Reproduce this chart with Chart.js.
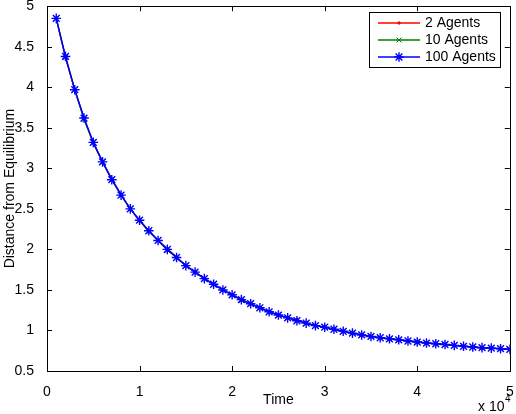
<!DOCTYPE html>
<html>
<head>
<meta charset="utf-8">
<script src="https://cdn.jsdelivr.net/npm/chart.js@4.4.1/dist/chart.umd.min.js"></script>
<style>
  html, body { margin: 0; padding: 0; background: #fff; }
  canvas { display: block; }
</style>
</head>
<body>
<canvas id="chart" width="516" height="414"></canvas>
<script>
var times = [1000, 2000, 3000, 4000, 5000, 6000, 7000, 8000, 9000, 10000,
  11000, 12000, 13000, 14000, 15000, 16000, 17000, 18000, 19000, 20000,
  21000, 22000, 23000, 24000, 25000, 26000, 27000, 28000, 29000, 30000,
  31000, 32000, 33000, 34000, 35000, 36000, 37000, 38000, 39000, 40000,
  41000, 42000, 43000, 44000, 45000, 46000, 47000, 48000, 49000, 50000];

var agents2 = [4.85, 4.36, 3.97, 3.62, 3.31, 3.08, 2.87, 2.68, 2.50, 2.35,
  2.23, 2.11, 2.01, 1.90, 1.80, 1.72, 1.64, 1.57, 1.50, 1.44,
  1.38, 1.33, 1.28, 1.23, 1.19, 1.155, 1.135, 1.09, 1.06, 1.04,
  1.015, 0.99, 0.967, 0.945, 0.926, 0.91, 0.897, 0.885, 0.87, 0.857,
  0.845, 0.836, 0.827, 0.816, 0.805, 0.796, 0.78, 0.782, 0.775, 0.765];

var agents10 = [4.85, 4.37, 3.97, 3.60, 3.32, 3.08, 2.86, 2.67, 2.50, 2.36,
  2.22, 2.11, 1.99, 1.90, 1.80, 1.72, 1.64, 1.57, 1.50, 1.44,
  1.37, 1.33, 1.28, 1.23, 1.19, 1.155, 1.12, 1.09, 1.06, 1.04,
  1.015, 0.99, 0.967, 0.945, 0.926, 0.91, 0.897, 0.885, 0.87, 0.865,
  0.845, 0.84, 0.827, 0.816, 0.805, 0.796, 0.788, 0.782, 0.775, 0.767];

var agents100 = [4.85, 4.38, 3.97, 3.62, 3.32, 3.08, 2.86, 2.67, 2.50, 2.36,
  2.23, 2.11, 2.00, 1.90, 1.80, 1.72, 1.64, 1.57, 1.50, 1.44,
  1.38, 1.33, 1.28, 1.23, 1.19, 1.155, 1.12, 1.09, 1.06, 1.04,
  1.015, 0.99, 0.967, 0.945, 0.926, 0.91, 0.897, 0.885, 0.87, 0.857,
  0.845, 0.836, 0.827, 0.816, 0.805, 0.796, 0.788, 0.782, 0.775, 0.767];

var seriesNames = ['2 Agents', '10 Agents', '100 Agents'];
var seriesColors = ['#ff0000', '#008000', '#0000ff'];
var xTickLabels = ['0', '1', '2', '3', '4', '5'];
var yTickLabels = ['0.5', '1', '1.5', '2', '2.5', '3', '3.5', '4', '4.5', '5'];

var FONT = 'Arial, "Liberation Sans", Helvetica, sans-serif';

function pts(vals) {
  return vals.map(function (v, i) { return { x: times[i], y: v }; });
}

// frame box, inward ticks on all four sides, exponent label, legend
var matlabAxes = {
  id: 'matlabAxes',
  afterDraw: function (chart) {
    var ctx = chart.ctx, a = chart.chartArea;
    var xs = chart.scales.x, ys = chart.scales.y;
    ctx.save();
    ctx.strokeStyle = '#000';
    ctx.lineWidth = 1;
    ctx.strokeRect(Math.round(a.left) + 0.5, Math.round(a.top) + 0.5,
      Math.round(a.right - a.left), Math.round(a.bottom - a.top));
    ctx.beginPath();
    xs.ticks.forEach(function (t) {
      var px = Math.round(xs.getPixelForValue(t.value)) + 0.5;
      ctx.moveTo(px, a.bottom); ctx.lineTo(px, a.bottom - 5);
      ctx.moveTo(px, a.top); ctx.lineTo(px, a.top + 5);
    });
    ys.ticks.forEach(function (t) {
      var py = Math.round(ys.getPixelForValue(t.value)) + 0.5;
      ctx.moveTo(a.left, py); ctx.lineTo(a.left + 5, py);
      ctx.moveTo(a.right, py); ctx.lineTo(a.right - 5, py);
    });
    ctx.stroke();

    // x 10^4
    ctx.fillStyle = '#000';
    ctx.textBaseline = 'alphabetic';
    ctx.textAlign = 'left';
    ctx.font = '14px ' + FONT;
    ctx.fillText('x 10', 478, 411);
    ctx.font = '10px ' + FONT;
    ctx.fillText('4', 505, 402);

    // legend
    var lx = 369, ly = 12, lw = 131, lh = 55;
    ctx.fillStyle = '#fff';
    ctx.fillRect(lx, ly, lw, lh);
    ctx.strokeStyle = '#000';
    ctx.lineWidth = 1;
    ctx.strokeRect(lx + 0.5, ly + 0.5, lw, lh);
    var rows = [23, 40, 57];
    chart.data.datasets.forEach(function (ds, i) {
      var y = rows[i];
      ctx.strokeStyle = seriesColors[i];
      ctx.fillStyle = seriesColors[i];
      ctx.lineWidth = 1.3;
      ctx.beginPath();
      ctx.moveTo(378, y); ctx.lineTo(420, y);
      ctx.stroke();
      ctx.lineWidth = ds.pointBorderWidth;
      Chart.helpers.drawPoint(ctx, {
        pointStyle: ds.pointStyle, radius: ds.pointRadius,
        rotation: 0, borderWidth: ds.pointBorderWidth
      }, 399, y);
      ctx.fillStyle = '#000';
      ctx.font = '14px ' + FONT;
      ctx.textBaseline = 'middle';
      ctx.fillText(ds.label, 425, y + 0.5);
    });
    ctx.restore();
  }
};

var chart = new Chart(document.getElementById('chart'), {
  type: 'line',
  plugins: [matlabAxes],
  data: {
    datasets: [
      {
        label: seriesNames[0],
        data: pts(agents2),
        borderColor: seriesColors[0],
        backgroundColor: seriesColors[0],
        borderWidth: 1.3,
        pointStyle: 'circle',
        pointRadius: 1.2,
        pointBorderWidth: 1,
        order: 3
      },
      {
        label: seriesNames[1],
        data: pts(agents10),
        borderColor: seriesColors[1],
        backgroundColor: seriesColors[1],
        borderWidth: 1.3,
        pointStyle: 'crossRot',
        pointRadius: 3.5,
        pointBorderWidth: 1,
        order: 2
      },
      {
        label: seriesNames[2],
        data: pts(agents100),
        borderColor: seriesColors[2],
        backgroundColor: seriesColors[2],
        borderWidth: 1.5,
        pointStyle: 'star',
        pointRadius: 4.8,
        pointBorderWidth: 1.4,
        order: 1
      }
    ]
  },
  options: {
    responsive: false,
    animation: false,
    devicePixelRatio: 1,
    layout: {
      padding: { left: 0, right: 5, top: 4, bottom: 0 }
    },
    plugins: {
      legend: { display: false },
      tooltip: { enabled: false }
    },
    elements: {
      line: { tension: 0 }
    },
    scales: {
      x: {
        type: 'linear',
        min: 0,
        max: 50000,
        grid: { display: false },
        border: { display: false },
        afterFit: function (s) {
          s.height = 43;
          s.paddingLeft = 0;
          s.paddingRight = 0;
        },
        afterBuildTicks: function (s) {
          s.ticks = xTickLabels.map(function (l, i) { return { value: i * 10000 }; });
        },
        ticks: {
          color: '#000',
          padding: 5,
          maxRotation: 0,
          font: { family: FONT, size: 14 },
          callback: function (v, i) { return xTickLabels[i]; }
        },
        title: {
          display: true,
          text: 'Time',
          color: '#000',
          font: { family: FONT, size: 14 },
          padding: { top: 0, bottom: 5 }
        }
      },
      y: {
        type: 'linear',
        min: 0.5,
        max: 5,
        grid: { display: false },
        border: { display: false },
        afterFit: function (s) {
          s.width = 47;
          s.paddingTop = 0;
          s.paddingBottom = 0;
        },
        afterBuildTicks: function (s) {
          s.ticks = yTickLabels.map(function (l) { return { value: parseFloat(l) }; });
        },
        ticks: {
          color: '#000',
          padding: 5,
          font: { family: FONT, size: 14 },
          callback: function (v, i) { return yTickLabels[i]; }
        },
        title: {
          display: true,
          text: 'Distance from Equilibrium',
          color: '#000',
          font: { family: FONT, size: 14 },
          padding: { top: 2, bottom: 0 }
        }
      }
    }
  }
});
</script>
</body>
</html>
